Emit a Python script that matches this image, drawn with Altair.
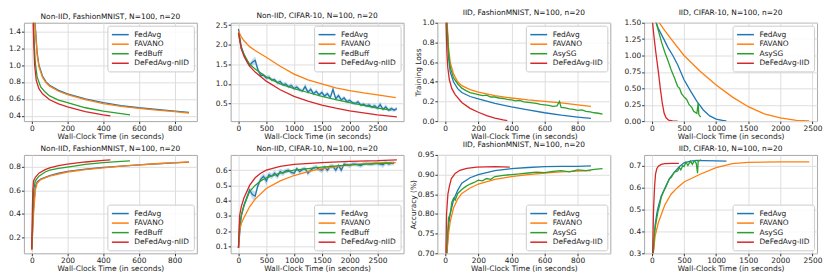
import altair as alt
import pandas as pd

COLORS = ["#1f77b4", "#ff7f0e", "#2ca02c", "#d62728"]
XTITLE = "Wall-Clock Time (in seconds)"
FONT = "DejaVu Sans"

# ---------------- Panel 1: Non-IID, FashionMNIST (loss) ----------------
p1_fedavg_t = [0, 10, 20, 30, 40, 60, 80, 100, 150, 200, 300, 400, 500, 600, 700, 800, 880]
p1_fedavg_v = [2.3, 1.9, 1.45, 1.15, 1.0, 0.87, 0.80, 0.76, 0.70, 0.66, 0.60, 0.555, 0.52, 0.495, 0.475, 0.455, 0.44]
p1_favano_t = [0, 10, 20, 30, 40, 60, 80, 100, 150, 200, 300, 400, 500, 600, 700, 800, 880]
p1_favano_v = [2.3, 1.88, 1.42, 1.12, 0.98, 0.855, 0.79, 0.75, 0.69, 0.65, 0.59, 0.545, 0.51, 0.487, 0.467, 0.448, 0.432]
p1_fedbuff_t = [0, 5, 10, 15, 20, 30, 50, 75, 100, 150, 200, 300, 400, 500, 550]
p1_fedbuff_v = [2.3, 1.9, 1.5, 1.2, 1.02, 0.86, 0.74, 0.68, 0.635, 0.585, 0.555, 0.495, 0.455, 0.425, 0.412]
p1_defed_t = [0, 4, 8, 12, 16, 25, 40, 60, 100, 150, 200, 300, 400, 440]
p1_defed_v = [2.3, 1.9, 1.5, 1.2, 1.0, 0.82, 0.72, 0.66, 0.59, 0.54, 0.505, 0.45, 0.41, 0.40]

# ---------------- Panel 2: Non-IID, CIFAR-10 (loss) ----------------
p2_fedavg_t = [0, 50, 100, 150, 200, 250, 300, 350, 400, 450, 500, 550, 600, 650, 700, 750, 800, 850,
               900, 950, 1000, 1050, 1100, 1150, 1200, 1250, 1300, 1350, 1400, 1450, 1500, 1550, 1600,
               1650, 1700, 1750, 1800, 1850, 1900, 1950, 2000, 2050, 2100, 2150, 2200, 2250, 2300, 2350,
               2400, 2450, 2500, 2550, 2600, 2650, 2700, 2750, 2800, 2850]
p2_fedavg_v = [2.40, 1.95, 1.75, 1.58, 1.47, 1.55, 1.60, 1.36, 1.22, 1.22, 1.15, 1.17, 1.10, 1.11, 1.03, 1.06,
               0.98, 1.00, 0.93, 0.96, 0.88, 0.92, 0.85, 0.82, 0.93, 0.79, 0.86, 0.75, 0.81, 0.72, 0.78, 0.69,
               0.75, 0.65, 0.86, 0.62, 0.70, 0.59, 0.64, 0.55, 0.58, 0.52, 0.50, 0.54, 0.46, 0.48, 0.44, 0.46,
               0.41, 0.44, 0.38, 0.47, 0.35, 0.41, 0.33, 0.37, 0.33, 0.37]
p2_fedavg_sd = [0.03, 0.05, 0.05, 0.06, 0.06, 0.08, 0.1, 0.08, 0.05, 0.05, 0.05, 0.06, 0.05, 0.05, 0.05, 0.06,
                0.05, 0.06, 0.05, 0.06, 0.05, 0.06, 0.05, 0.05, 0.08, 0.05, 0.07, 0.05, 0.06, 0.05, 0.06, 0.05,
                0.06, 0.05, 0.1, 0.05, 0.07, 0.05, 0.06, 0.05, 0.05, 0.05, 0.05, 0.06, 0.05, 0.05, 0.05, 0.06,
                0.05, 0.06, 0.05, 0.08, 0.05, 0.07, 0.05, 0.06, 0.05, 0.05]
p2_favano_t = [0, 50, 100, 200, 300, 500, 750, 1000, 1250, 1500, 1750, 2000, 2250, 2500, 2830]
p2_favano_v = [2.35, 2.2, 2.1, 1.95, 1.85, 1.68, 1.45, 1.25, 1.1, 1.0, 0.9, 0.83, 0.77, 0.72, 0.65]
p2_fedbuff_t = [0, 50, 100, 200, 300, 500, 750, 1000, 1250, 1500, 1750, 2000, 2250, 2500, 2750]
p2_fedbuff_v = [2.3, 1.9, 1.75, 1.5, 1.38, 1.18, 1.0, 0.88, 0.78, 0.68, 0.6, 0.52, 0.45, 0.38, 0.33]
p2_defed_t = [0, 50, 100, 200, 300, 500, 750, 1000, 1250, 1500, 1750, 2000, 2250, 2500, 2850]
p2_defed_v = [2.3, 1.9, 1.7, 1.45, 1.3, 1.07, 0.85, 0.68, 0.56, 0.46, 0.38, 0.31, 0.26, 0.21, 0.16]

# ---------------- Panel 3: IID, FashionMNIST (loss) ----------------
p3_fedavg_t = [0, 10, 20, 30, 50, 75, 100, 150, 200, 300, 400, 500, 600, 700, 800, 880]
p3_fedavg_v = [2.0, 1.0, 0.65, 0.5, 0.4, 0.33, 0.29, 0.25, 0.225, 0.18, 0.145, 0.115, 0.085, 0.06, 0.04, 0.027]
p3_favano_t = [0, 10, 20, 30, 50, 75, 100, 150, 200, 300, 400, 500, 600, 700, 800, 880]
p3_favano_v = [2.0, 1.05, 0.75, 0.6, 0.48, 0.4, 0.36, 0.32, 0.295, 0.26, 0.235, 0.215, 0.2, 0.185, 0.165, 0.15]
p3_asysg_t = [0, 10, 20, 30, 50, 75, 100, 125, 150, 175, 200, 225, 250, 275, 300, 325, 350, 375, 400, 425,
              450, 475, 500, 525, 550, 575, 600, 625, 650, 675, 690, 700, 725, 750, 775, 800, 825, 850, 875,
              900, 925, 950]
p3_asysg_v = [2.0, 1.0, 0.7, 0.55, 0.44, 0.38, 0.335, 0.31, 0.29, 0.28, 0.27, 0.26, 0.265, 0.245, 0.245, 0.235,
              0.23, 0.22, 0.215, 0.205, 0.21, 0.195, 0.19, 0.185, 0.18, 0.17, 0.165, 0.16, 0.15, 0.155, 0.2,
              0.14, 0.135, 0.125, 0.12, 0.11, 0.115, 0.1, 0.095, 0.085, 0.08, 0.07]
p3_defed_t = [0, 5, 10, 15, 25, 40, 60, 100, 150, 200, 250, 300, 350, 375]
p3_defed_v = [1.6, 1.0, 0.7, 0.55, 0.42, 0.33, 0.27, 0.19, 0.13, 0.09, 0.055, 0.03, 0.012, 0.006]

# ---------------- Panel 4: IID, CIFAR-10 (loss) ----------------
p4_fedavg_t = [50, 100, 185, 250, 325, 400, 500, 600, 700, 800, 900, 1000, 1100, 1160]
p4_fedavg_v = [1.55, 1.41, 1.25, 1.12, 1.0, 0.86, 0.63, 0.46, 0.3, 0.17, 0.08, 0.03, 0.01, 0.005]
p4_favano_t = [100, 200, 300, 500, 750, 1000, 1250, 1500, 1750, 2000, 2250, 2450]
p4_favano_v = [1.52, 1.38, 1.25, 1.0, 0.76, 0.55, 0.37, 0.22, 0.11, 0.05, 0.012, 0.003]
p4_asysg_t = [50, 100, 150, 200, 250, 300, 350, 400, 430, 460, 500, 540, 580, 620, 650, 680, 700, 710,
              720, 730, 760]
p4_asysg_v = [1.55, 1.38, 1.2, 1.05, 0.92, 0.78, 0.66, 0.53, 0.5, 0.42, 0.37, 0.33, 0.25, 0.21, 0.15, 0.13,
              0.12, 0.2, 0.28, 0.1, 0.06]
p4_defed_t = [0, 30, 60, 100, 130, 160, 190, 220, 260, 320, 400]
p4_defed_v = [1.6, 1.3, 1.05, 0.75, 0.5, 0.28, 0.12, 0.05, 0.015, 0.003, 0.0]

# ---------------- Panel 5: Non-IID, FashionMNIST (accuracy) ----------------
p5_fedavg_t = [0, 10, 20, 30, 50, 75, 100, 150, 200, 300, 400, 500, 600, 700, 800, 880]
p5_fedavg_v = [0.1, 0.45, 0.63, 0.67, 0.695, 0.71, 0.725, 0.745, 0.76, 0.78, 0.795, 0.805, 0.815, 0.825, 0.833, 0.838]
p5_favano_t = [0, 10, 20, 30, 50, 100, 200, 300, 400, 500, 600, 700, 800, 880]
p5_favano_v = [0.09, 0.4, 0.6, 0.66, 0.69, 0.72, 0.755, 0.775, 0.79, 0.805, 0.815, 0.825, 0.835, 0.84]
p5_fedbuff_t = [0, 5, 10, 20, 40, 75, 100, 150, 200, 300, 400, 500, 550]
p5_fedbuff_v = [0.1, 0.35, 0.6, 0.68, 0.72, 0.755, 0.77, 0.785, 0.797, 0.82, 0.835, 0.845, 0.85]
p5_defed_t = [0, 3, 6, 10, 20, 40, 75, 100, 150, 200, 300, 400, 440]
p5_defed_v = [0.1, 0.4, 0.6, 0.68, 0.71, 0.745, 0.775, 0.79, 0.81, 0.822, 0.84, 0.853, 0.858]

# ---------------- Panel 6: Non-IID, CIFAR-10 (accuracy) ----------------
p6_fedavg_t = [0, 50, 100, 150, 200, 250, 300, 350, 400, 450, 500, 550, 600, 650, 700, 750, 800, 850,
               900, 950, 1000, 1050, 1100, 1150, 1200, 1250, 1300, 1350, 1400, 1450, 1500, 1550, 1600,
               1650, 1700, 1750, 1800, 1850, 1900, 1950, 2000, 2050, 2100, 2150, 2200, 2250, 2300, 2350,
               2400, 2450, 2500, 2550, 2600, 2650, 2700, 2750, 2800]
p6_fedavg_v = [0.09, 0.30, 0.37, 0.42, 0.47, 0.44, 0.43, 0.50, 0.54, 0.56, 0.53, 0.57, 0.56, 0.58, 0.56, 0.59,
               0.58, 0.595, 0.60, 0.585, 0.58, 0.61, 0.59, 0.605, 0.61, 0.58, 0.60, 0.615, 0.62, 0.605, 0.60,
               0.62, 0.60, 0.625, 0.625, 0.60, 0.63, 0.60, 0.64, 0.635, 0.63, 0.64, 0.64, 0.635, 0.63, 0.64,
               0.645, 0.64, 0.64, 0.645, 0.645, 0.64, 0.635, 0.65, 0.64, 0.645, 0.645]
p6_fedavg_sd = [0.01, 0.02, 0.02, 0.02, 0.02, 0.03, 0.03, 0.02, 0.02, 0.02, 0.03, 0.02, 0.02, 0.02, 0.02, 0.02,
                0.02, 0.015, 0.015, 0.015, 0.02, 0.015, 0.015, 0.015, 0.015, 0.02, 0.015, 0.015, 0.015, 0.015,
                0.02, 0.015, 0.02, 0.015, 0.015, 0.02, 0.015, 0.02, 0.015, 0.015, 0.015, 0.015, 0.015, 0.015,
                0.015, 0.015, 0.015, 0.015, 0.015, 0.015, 0.015, 0.015, 0.02, 0.015, 0.015, 0.015, 0.015]
p6_favano_t = [0, 20, 50, 100, 200, 300, 500, 750, 1000, 1250, 1500, 2000, 2500, 2830]
p6_favano_v = [0.09, 0.2, 0.25, 0.29, 0.36, 0.41, 0.48, 0.53, 0.565, 0.59, 0.61, 0.635, 0.648, 0.65]
p6_fedbuff_t = [0, 20, 50, 100, 200, 300, 400, 500, 750, 1000, 1500, 2000, 2500, 2750]
p6_fedbuff_v = [0.09, 0.25, 0.3, 0.37, 0.46, 0.5, 0.53, 0.55, 0.58, 0.6, 0.62, 0.635, 0.643, 0.647]
p6_defed_t = [0, 20, 50, 100, 200, 300, 400, 500, 750, 1000, 1500, 2000, 2500, 2850]
p6_defed_v = [0.09, 0.3, 0.36, 0.42, 0.5, 0.55, 0.58, 0.6, 0.625, 0.638, 0.65, 0.658, 0.662, 0.668]

# ---------------- Panel 7: IID, FashionMNIST (accuracy) ----------------
p7_fedavg_t = [0, 10, 20, 30, 50, 75, 100, 150, 200, 300, 400, 500, 600, 700, 800, 880]
p7_fedavg_v = [0.5, 0.7, 0.77, 0.8, 0.835, 0.86, 0.878, 0.892, 0.9, 0.91, 0.915, 0.918, 0.92, 0.921, 0.921, 0.922]
p7_favano_t = [0, 10, 20, 30, 50, 75, 100, 150, 200, 300, 400, 500, 600, 700, 800, 880]
p7_favano_v = [0.5, 0.7, 0.75, 0.78, 0.815, 0.838, 0.852, 0.866, 0.876, 0.888, 0.895, 0.9, 0.904, 0.907, 0.909, 0.91]
p7_asysg_t = [0, 10, 20, 30, 40, 50, 60, 75, 100, 125, 150, 175, 200, 225, 250, 275, 300, 350, 400, 450,
              500, 550, 600, 650, 700, 750, 800, 850, 900, 950]
p7_asysg_v = [0.5, 0.72, 0.79, 0.80, 0.83, 0.84, 0.835, 0.852, 0.862, 0.87, 0.876, 0.88, 0.886, 0.884, 0.89,
              0.888, 0.895, 0.898, 0.9, 0.902, 0.904, 0.906, 0.905, 0.908, 0.91, 0.907, 0.912, 0.91, 0.913, 0.915]
p7_defed_t = [0, 4, 8, 16, 25, 37, 60, 88, 130, 190, 300, 390]
p7_defed_v = [0.5, 0.7, 0.8, 0.85, 0.87, 0.89, 0.903, 0.911, 0.916, 0.919, 0.92, 0.919]

# ---------------- Panel 8: IID, CIFAR-10 (accuracy) ----------------
p8_fedavg_t = [0, 20, 50, 75, 100, 144, 222, 273, 350, 428, 500, 600, 700, 800, 1000, 1160]
p8_fedavg_v = [0.1, 0.3, 0.43, 0.48, 0.515, 0.56, 0.61, 0.64, 0.67, 0.695, 0.712, 0.72, 0.723, 0.722, 0.721, 0.72]
p8_favano_t = [0, 20, 50, 100, 200, 300, 400, 500, 750, 1000, 1250, 1500, 2000, 2450]
p8_favano_v = [0.1, 0.3, 0.38, 0.44, 0.52, 0.57, 0.6, 0.625, 0.66, 0.69, 0.708, 0.714, 0.716, 0.716]
p8_asysg_t = [0, 20, 40, 67, 93, 120, 144, 180, 222, 250, 273, 300, 350, 400, 428, 450, 480, 500, 530, 560,
              600, 630, 660, 690, 710, 720, 740, 763]
p8_asysg_v = [0.1, 0.3, 0.4, 0.445, 0.49, 0.52, 0.555, 0.58, 0.605, 0.625, 0.64, 0.645, 0.67, 0.675, 0.69,
              0.68, 0.7, 0.695, 0.715, 0.7, 0.72, 0.705, 0.722, 0.71, 0.665, 0.72, 0.722, 0.725]
p8_defed_t = [0, 10, 25, 40, 55, 75, 100, 144, 200, 300, 420]
p8_defed_v = [0.1, 0.3, 0.5, 0.6, 0.66, 0.685, 0.697, 0.705, 0.708, 0.709, 0.709]

NIID = ["FedAvg", "FAVANO", "FedBuff", "DeFedAvg-nIID"]
IID = ["FedAvg", "FAVANO", "AsySG", "DeFedAvg-IID"]

W, H = 174, 99


def to_frame(names, pairs):
    rows = []
    for name, (ts, vs) in zip(names, pairs):
        for a, b in zip(ts, vs):
            rows.append({"s": name, "t": a, "v": b})
    return pd.DataFrame(rows)


def panel(title, names, pairs, xdom, ydom, xticks, yticks, yfmt, ytitle, orient, band=None):
    df = to_frame(names, pairs)
    xenc = alt.X("t:Q", scale=alt.Scale(domain=xdom, nice=False, zero=False),
                 axis=alt.Axis(values=xticks, format="d", title=XTITLE))
    yaxis = alt.Axis(values=yticks, format=yfmt, title=ytitle)
    yscale = alt.Scale(domain=ydom, nice=False, zero=False)
    legend = alt.Legend(title=None, orient=orient, offset=3,
                        symbolType="M-2,0L2,0", symbolSize=72, symbolStrokeWidth=1.5,
                        labelFont=FONT, labelFontSize=7.5, labelColor="#222",
                        rowPadding=0.6, padding=4, labelOffset=9, symbolOffset=4,
                        strokeColor="#cccccc", fillColor="rgba(255,255,255,0.85)",
                        cornerRadius=2)
    lines = alt.Chart(df).mark_line(clip=True, strokeWidth=1.3).encode(
        x=xenc,
        y=alt.Y("v:Q", scale=yscale, axis=yaxis),
        color=alt.Color("s:N", scale=alt.Scale(domain=names, range=COLORS), legend=legend),
    )
    layers = []
    if band is not None:
        bt, bv, bsd, bcol = band
        bdf = pd.DataFrame({"t": bt, "lo": [a - b for a, b in zip(bv, bsd)],
                            "hi": [a + b for a, b in zip(bv, bsd)]})
        layers.append(alt.Chart(bdf).mark_area(clip=True, opacity=0.25, color=bcol).encode(
            x=xenc, y=alt.Y("lo:Q", scale=yscale, axis=yaxis), y2="hi:Q"))
    layers.append(lines)
    return alt.layer(*layers).properties(width=W, height=H, title=title)


FM_X = [-44, 924]
CF_X = [-141, 2970]
FI_X = [-47.5, 997]
CI_X = [-122.5, 2572]
T800 = [0, 200, 400, 600, 800]
T2500 = [0, 500, 1000, 1500, 2000, 2500]

panels = [
    panel("Non-IID, FashionMNIST, N=100, n=20", NIID,
          [(p1_fedavg_t, p1_fedavg_v), (p1_favano_t, p1_favano_v), (p1_fedbuff_t, p1_fedbuff_v), (p1_defed_t, p1_defed_v)],
          FM_X, [0.337, 1.5], T800, [0.4, 0.6, 0.8, 1.0, 1.2, 1.4], ".1f", None, "top-right"),
    panel("Non-IID, CIFAR-10, N=100, n=20", NIID,
          [(p2_fedavg_t, p2_fedavg_v), (p2_favano_t, p2_favano_v), (p2_fedbuff_t, p2_fedbuff_v), (p2_defed_t, p2_defed_v)],
          CF_X, [0.05, 2.56], T2500, [0.5, 1.0, 1.5, 2.0, 2.5], ".1f", None, "top-right",
          band=(p2_fedavg_t, p2_fedavg_v, p2_fedavg_sd, "#1f77b4")),
    panel("IID, FashionMNIST, N=100, n=20", IID,
          [(p3_fedavg_t, p3_fedavg_v), (p3_favano_t, p3_favano_v), (p3_asysg_t, p3_asysg_v), (p3_defed_t, p3_defed_v)],
          FI_X, [0.0, 1.0], T800, [0.0, 0.2, 0.4, 0.6, 0.8, 1.0], ".1f", "Training Loss", "top-right"),
    panel("IID, CIFAR-10, N=100, n=20", IID,
          [(p4_fedavg_t, p4_fedavg_v), (p4_favano_t, p4_favano_v), (p4_asysg_t, p4_asysg_v), (p4_defed_t, p4_defed_v)],
          CI_X, [0.0, 1.5], T2500, [0.0, 0.25, 0.5, 0.75, 1.0, 1.25, 1.5], ".2f", None, "top-right"),
    panel("Non-IID, FashionMNIST, N=100, n=20", NIID,
          [(p5_fedavg_t, p5_fedavg_v), (p5_favano_t, p5_favano_v), (p5_fedbuff_t, p5_fedbuff_v), (p5_defed_t, p5_defed_v)],
          FM_X, [0.065, 0.9], T800, [0.2, 0.4, 0.6, 0.8], ".1f", None, "bottom-right"),
    panel("Non-IID, CIFAR-10, N=100, n=20", NIID,
          [(p6_fedavg_t, p6_fedavg_v), (p6_favano_t, p6_favano_v), (p6_fedbuff_t, p6_fedbuff_v), (p6_defed_t, p6_defed_v)],
          CF_X, [0.055, 0.70], T2500, [0.1, 0.2, 0.3, 0.4, 0.5, 0.6], ".1f", None, "bottom-right",
          band=(p6_fedavg_t, p6_fedavg_v, p6_fedavg_sd, "#1f77b4")),
    panel("IID, FashionMNIST, N=100, n=20", IID,
          [(p7_fedavg_t, p7_fedavg_v), (p7_favano_t, p7_favano_v), (p7_asysg_t, p7_asysg_v), (p7_defed_t, p7_defed_v)],
          FI_X, [0.70, 0.95], T800, [0.70, 0.75, 0.80, 0.85, 0.90, 0.95], ".2f", "Accuracy (%)", "bottom-right"),
    panel("IID, CIFAR-10, N=100, n=20", IID,
          [(p8_fedavg_t, p8_fedavg_v), (p8_favano_t, p8_favano_v), (p8_asysg_t, p8_asysg_v), (p8_defed_t, p8_defed_v)],
          CI_X, [0.3, 0.748], T2500, [0.3, 0.4, 0.5, 0.6, 0.7], ".1f", None, "bottom-right"),
]

chart = alt.concat(*panels, columns=4, spacing={"row": 34, "column": 34}, bounds="flush").resolve_scale(
    color="independent", x="independent", y="independent"
).resolve_legend(color="independent").properties(
    padding={"left": 0, "top": 0, "right": 0, "bottom": 0}
).configure_axis(
    labelFont=FONT, labelFontSize=7.5, labelColor="#222", titleFont=FONT, titleFontSize=7.5,
    titleFontWeight="normal", titleColor="#222", tickColor="#333", tickSize=2.5, labelPadding=1,
    titlePadding=0, domain=False, gridColor="#dedede", gridWidth=1, labelFlush=False
).configure_view(
    stroke="#a8a8a8", strokeWidth=1
).configure_title(
    font=FONT, fontSize=7.5, fontWeight="normal", color="#111", offset=2
)

chart.save("out.html", embed_options={"renderer": "svg", "actions": False})
